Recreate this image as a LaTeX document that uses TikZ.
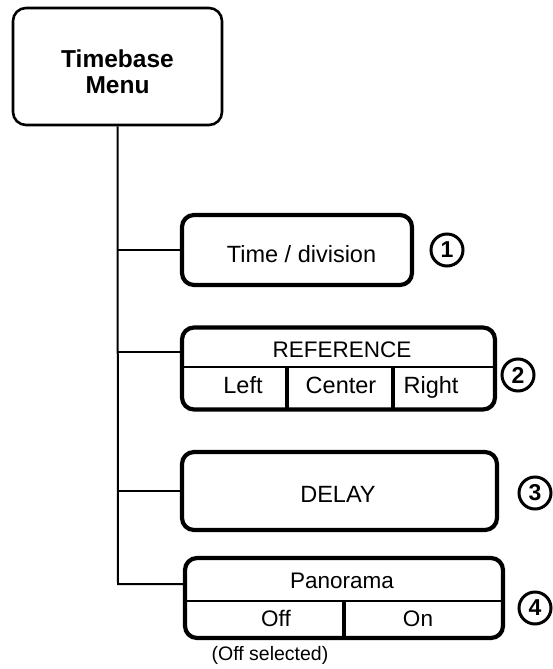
\documentclass[tikz,border=0pt]{standalone}
\usepackage{fontspec}
\setmainfont{Liberation Sans}
\begin{document}
\begin{tikzpicture}[x=1pt,y=-1pt,
  menubox/.style={draw, line width=2.6pt, rounded corners=13pt, inner sep=0pt},
  menutext/.style={inner sep=0pt, anchor=base, font=\fontsize{24.5}{26}\selectfont\bfseries},
  itembox/.style={draw, line width=4.2pt, rounded corners=12pt, inner sep=0pt},
  conn/.style={line width=2pt},
  hdiv/.style={line width=2.2pt},
  vdiv/.style={line width=3.6pt},
  big/.style={inner sep=0pt, anchor=base, font=\fontsize{23.5}{26}\selectfont},
  cell/.style={inner sep=0pt, anchor=base, font=\fontsize{22.5}{24}\selectfont},
  note/.style={inner sep=0pt, anchor=base, font=\fontsize{19.5}{22}\selectfont},
  num/.style={circle, draw, line width=3pt, minimum size=32pt, inner sep=0pt, font=\fontsize{23}{24}\selectfont\bfseries}
]
\useasboundingbox (0,0) rectangle (552,669);
% menu
\node[menubox, minimum width=209pt, minimum height=117pt] (menu) at (117.5,66.5) {};
\node[menutext] (menut1) at (117.5,67) {Timebase};
\node[menutext] (menut2) at (117.5,93) {Menu};
% items
\node[itembox, minimum width=230pt, minimum height=70pt] (tdiv) at (297,250) {};
\node[big] (tdivt) at (301.5,262) {Time / division};
\node[itembox, minimum width=313pt, minimum height=82pt] (ref) at (338.5,368.5) {};
\node[itembox, minimum width=315pt, minimum height=78pt] (delay) at (339.5,491) {};
\node[big] (delayt) at (338,502) {DELAY};
\node[itembox, minimum width=318pt, minimum height=80pt] (pan) at (344,598) {};
% reference dividers
\draw[hdiv] (182,367) -- (495,367);
\draw[vdiv] (287,367) -- (287,409);
\draw[vdiv] (393,367) -- (393,409);
\node[cell] (reft) at (342,357) {REFERENCE};
\node[big] (left) at (243,393) {Left};
\node[big] (center) at (341,393) {Center};
\node[big] (right) at (431,393) {Right};
% panorama dividers
\draw[hdiv] (185,601) -- (503,601);
\draw[vdiv] (344,601) -- (344,637);
\node[cell] (pant) at (342,588) {Panorama};
\node[cell] (off) at (276,626) {Off};
\node[cell] (on) at (418,626) {On};
\node[note] (offsel) at (270,660) {(Off selected)};
% numbers
\node[num] (n1) at (447,250) {1};
\node[num] (n2) at (518,375) {2};
\node[num] (n3) at (535,493) {3};
\node[num] (n4) at (535,608) {4};
% connectors
\coordinate (trunkend) at (118,584);
\coordinate (refb) at (182,352);
\coordinate (panb) at (185,584);
\draw[conn] (menu.south) -- (trunkend) -- (panb);
\draw[conn] (menu.south |- tdiv.west) -- (tdiv.west);
\draw[conn] (menu.south |- refb) -- (refb);
\draw[conn] (menu.south |- delay.west) -- (delay.west);
\end{tikzpicture}
\end{document}
